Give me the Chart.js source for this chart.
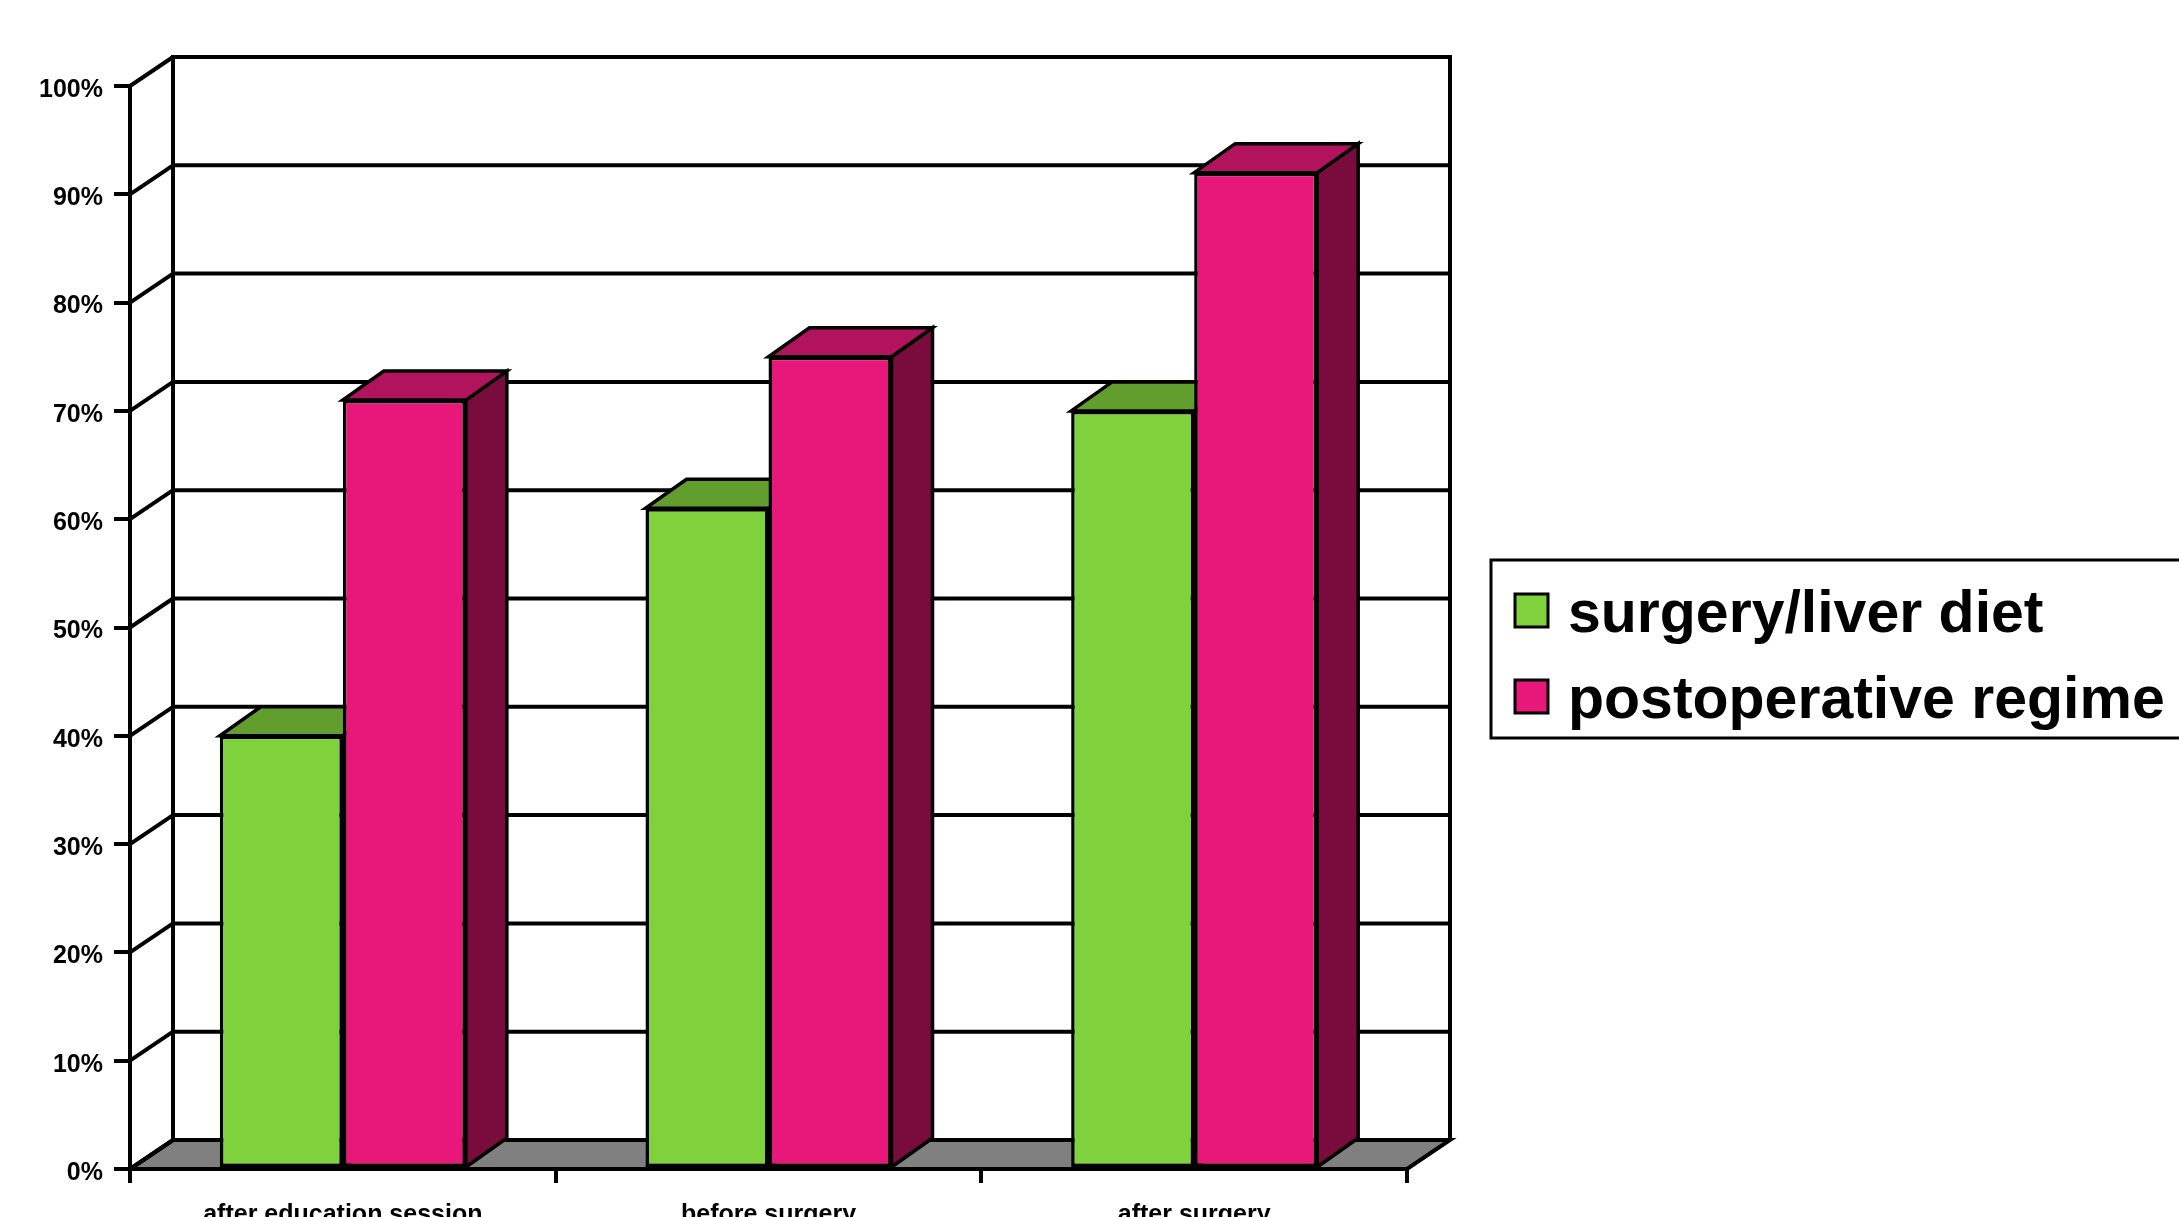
<!DOCTYPE html>
<html>
<head>
<meta charset="utf-8">
<script src="https://cdn.jsdelivr.net/npm/chart.js@4.4.0/dist/chart.umd.min.js"></script>
<style>
  html, body { margin: 0; padding: 0; background: #fff; }
  #wrap { width: 2179px; height: 1217px; position: relative; }
</style>
</head>
<body>
<div id="wrap"><canvas id="chart3d"></canvas></div>
<script>
const categories = ['after education session', 'before surgery', 'after surgery'];
const seriesNames = ['surgery/liver diet', 'postoperative regime'];
const dietValues = [40, 61, 70];
const regimeValues = [71, 75, 92];
const yTicks = [0, 10, 20, 30, 40, 50, 60, 70, 80, 90, 100];
const yTickLabels = ['0%', '10%', '20%', '30%', '40%', '50%', '60%', '70%', '80%', '90%', '100%'];

const FONT = '"Liberation Sans", Arial, sans-serif';
// front / top / side shades per series
const shades = [
  { front: '#7FD23C', top: '#619E2E', side: '#4A7A22' },
  { front: '#E8177A', top: '#B1135D', side: '#790B3D' }
];

function line(ctx, x1, y1, x2, y2) {
  ctx.beginPath();
  ctx.moveTo(x1, y1);
  ctx.lineTo(x2, y2);
  ctx.stroke();
}

// walls, floor and the top/side faces of each bar
const box3d = {
  id: 'box3d',
  beforeDatasetsDraw(chart) {
    const { ctx, chartArea: a, scales: { y } } = chart;
    const dx = 43, dy = -29;
    const bdx = 41, bdy = -29;
    ctx.save();
    ctx.lineWidth = 4;
    ctx.strokeStyle = '#000';

    // floor
    ctx.fillStyle = '#808080';
    ctx.beginPath();
    ctx.moveTo(a.left, a.bottom);
    ctx.lineTo(a.right, a.bottom);
    ctx.lineTo(a.right + dx, a.bottom + dy);
    ctx.lineTo(a.left + dx, a.bottom + dy);
    ctx.closePath();
    ctx.fill();
    ctx.stroke();

    // back wall grid + left wall diagonals
    yTicks.forEach(v => {
      const py = y.getPixelForValue(v);
      if (v > 0) line(ctx, a.left + dx, py + dy, a.right + dx, py + dy);
      line(ctx, a.left, py, a.left + dx, py + dy);
    });
    line(ctx, a.left + dx, a.top + dy - 2, a.left + dx, a.bottom + dy);
    line(ctx, a.right + dx, a.top + dy - 2, a.right + dx, a.bottom + dy);

    // bar tops and sides, category by category
    ctx.lineWidth = 3.5;
    ctx.lineJoin = 'miter';
    for (let i = 0; i < categories.length; i++) {
      chart.data.datasets.forEach((ds, di) => {
        const bar = chart.getDatasetMeta(di).data[i];
        const p = bar.getProps(['x', 'y', 'base', 'width'], true);
        const l = p.x - p.width / 2, r = p.x + p.width / 2;
        ctx.fillStyle = shades[di].side;
        ctx.beginPath();
        ctx.moveTo(r, p.y);
        ctx.lineTo(r + bdx, p.y + bdy);
        ctx.lineTo(r + bdx, p.base + bdy);
        ctx.lineTo(r, p.base);
        ctx.closePath();
        ctx.fill();
        ctx.stroke();
        ctx.fillStyle = shades[di].top;
        ctx.beginPath();
        ctx.moveTo(l, p.y);
        ctx.lineTo(r, p.y);
        ctx.lineTo(r + bdx, p.y + bdy);
        ctx.lineTo(l + bdx, p.y + bdy);
        ctx.closePath();
        ctx.fill();
        ctx.stroke();
      });
    }
    ctx.restore();
  },
  afterDraw(chart) {
    const ctx = chart.ctx;
    ctx.save();
    ctx.lineWidth = 3;
    ctx.strokeStyle = '#000';
    ctx.strokeRect(1491, 560, 760, 178);
    const rows = [632, 718];
    chart.data.datasets.forEach((ds, di) => {
      ctx.fillStyle = ds.backgroundColor;
      ctx.fillRect(1515, rows[di] - 38, 33, 33);
      ctx.strokeRect(1515, rows[di] - 38, 33, 33);
      ctx.fillStyle = '#000';
      ctx.font = 'bold 59px ' + FONT;
      ctx.textBaseline = 'alphabetic';
      ctx.fillText(ds.label, 1568, rows[di]);
    });
    ctx.restore();
  }
};

const ctx3d = document.getElementById('chart3d').getContext('2d');
new Chart(ctx3d, {
  type: 'bar',
  data: {
    labels: categories,
    datasets: [{
      label: seriesNames[0],
      data: dietValues,
      backgroundColor: shades[0].front,
      borderColor: '#000',
      borderWidth: 3.5,
      borderSkipped: false
    }, {
      label: seriesNames[1],
      data: regimeValues,
      backgroundColor: shades[1].front,
      borderColor: '#000',
      borderWidth: 3.5,
      borderSkipped: false
    }]
  },
  options: {
    responsive: true,
    maintainAspectRatio: false,
    animation: false,
    layout: { padding: { top: 86, right: 772, bottom: 0, left: 0 } },
    datasets: { bar: { categoryPercentage: 0.578, barPercentage: 1.0 } },
    plugins: { legend: { display: false }, tooltip: { enabled: false } },
    scales: {
      x: {
        grid: { display: true, drawOnChartArea: false, offset: true, color: '#000', lineWidth: 4, tickLength: 14 },
        border: { display: true, color: '#000', width: 4 },
        ticks: { color: '#000', font: { family: FONT, size: 25, weight: 'bold' }, padding: 17, maxRotation: 0, autoSkip: false },
        afterFit(s) { s.height = 48; }
      },
      y: {
        min: 0,
        max: 100,
        grid: { drawOnChartArea: false, color: '#000', lineWidth: 4, tickLength: 16 },
        border: { display: true, color: '#000', width: 4 },
        ticks: {
          stepSize: 10,
          padding: 11,
          labelOffset: 4,
          color: '#000',
          font: { family: FONT, size: 25, weight: 'bold' },
          callback: v => yTickLabels[yTicks.indexOf(v)]
        },
        afterFit(s) { s.width = 130; }
      }
    }
  },
  plugins: [box3d]
});
</script>
</body>
</html>
